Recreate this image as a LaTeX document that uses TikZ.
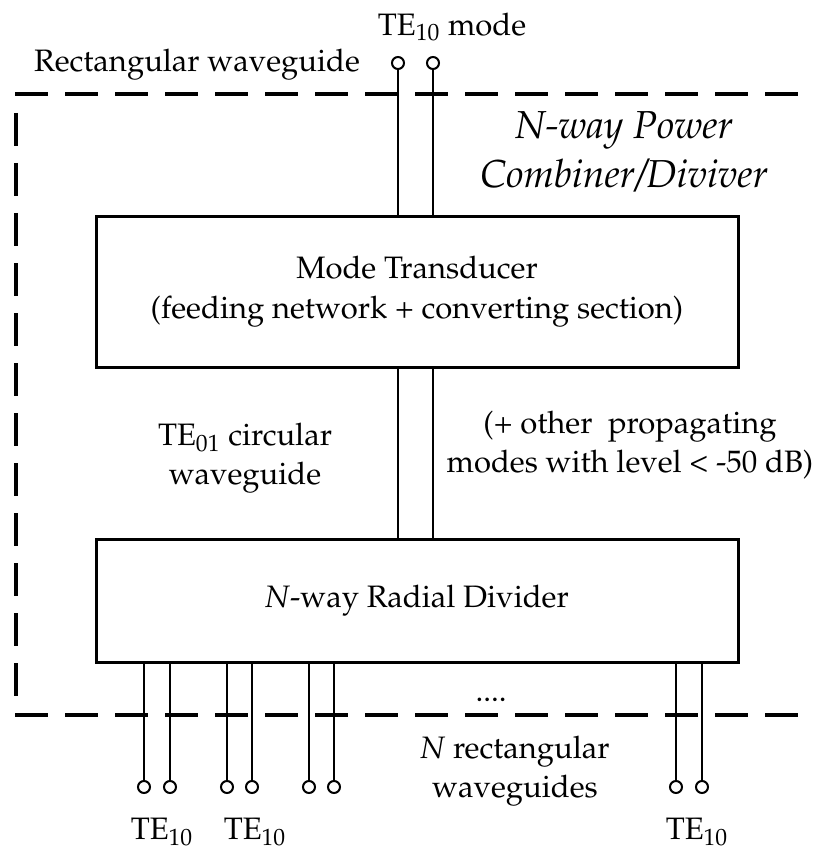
\documentclass[tikz,border=0pt]{standalone}
\usepackage[T1]{fontenc}
\usepackage{mathpazo}
\begin{document}
\begin{tikzpicture}[x=0.5pt, y=-0.5pt, font=\fontsize{15.5}{19.5}\selectfont,
	block/.style={draw, line width=1.5pt, minimum width=321pt, align=center, inner sep=0pt},
	port/.style={circle, draw, line width=1pt, minimum size=6pt, inner sep=0pt},
	wg/.style={line width=1pt},
	border/.style={line width=2pt, dash pattern=on 16.5pt off 8.5pt},
	txt/.style={align=center, inner sep=0pt}]
	\useasboundingbox (0,0) rectangle (817,850);
	% outline of the combiner
	\draw[border] (15,94) -- (805,94);
	\draw[border] (16,113) -- (16,698);
	\draw[border] (15,715) -- (805,715);
	% blocks
	\node[block, minimum height=75pt, font=\fontsize{15.5}{20}\selectfont] (mode) at (417,292) {Mode Transducer\\(feeding network + converting section)};
	\node[block, minimum height=61.5pt] (radial) at (417,600.5) {\textit{N}-way Radial Divider};
	% input waveguide
	\node[port] (in1) at (398,63) {};
	\node[port] (in2) at (433,63) {};
	\draw[wg] (in1) -- (in1 |- mode.north);
	\draw[wg] (in2) -- (in2 |- mode.north);
	% circular waveguide
	\draw[wg] (in1 |- mode.south) -- (in1 |- radial.north);
	\draw[wg] (in2 |- mode.south) -- (in2 |- radial.north);
	% output waveguides
	\foreach \x [count=\i] in {144,170,227,252,309,334,676,702} {
		\node[port] (out\i) at (\x,787) {};
		\draw[wg] (out\i) -- (out\i |- radial.south);
	}
	% labels
	\node[txt] (mode10) at (452,27) {TE\textsubscript{10} mode};
	\node[txt] (rectwg) at (197,65) {Rectangular waveguide};
	\node[txt, font=\fontsize{19.5}{24.5}\selectfont\itshape] (title) at (624,152) {N-way Power\\Combiner/Diviver};
	\node[txt] (circwg) at (245,458) {TE\textsubscript{01} circular\\waveguide};
	\node[txt] (other) at (630,445) {(+ other\ \ propagating\\modes with level < -50 dB)};
	\node[txt] (dots) at (491,700) {....};
	\node[txt] (nwg) at (515,771) {\textit{N} rectangular\\waveguides};
	\node[txt] (te1) at (162,832) {TE\textsubscript{10}};
	\node[txt] (te2) at (255,832) {TE\textsubscript{10}};
	\node[txt] (te3) at (697,832) {TE\textsubscript{10}};
\end{tikzpicture}
\end{document}
